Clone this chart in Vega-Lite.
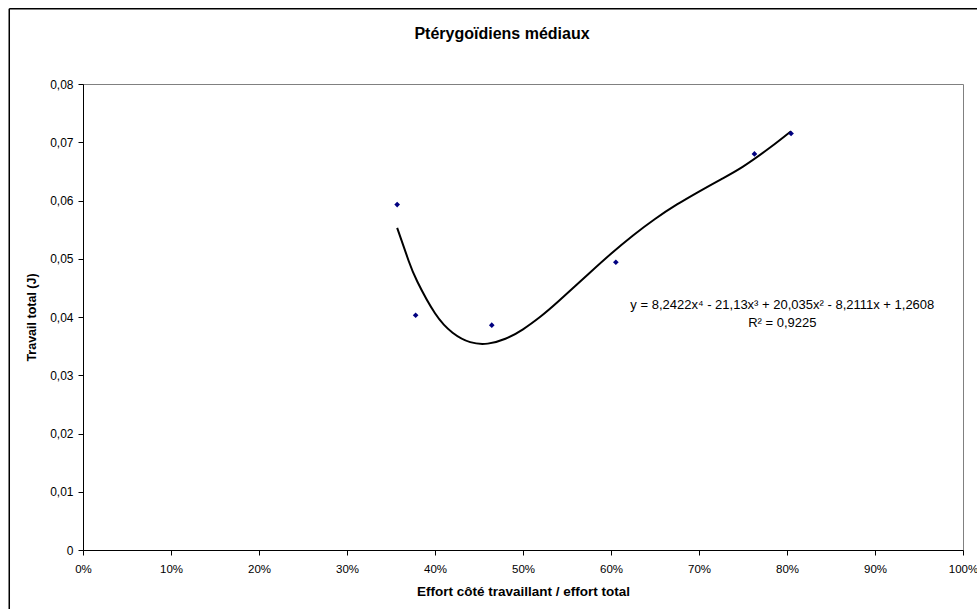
{
  "$schema": "https://vega.github.io/schema/vega-lite/v6.json",
  "width": 880,
  "height": 466,
  "autosize": "none",
  "padding": {"left": 83, "top": 84, "right": 14, "bottom": 59},
  "background": "white",
  "title": {"text": "Ptérygoïdiens médiaux", "font": "Liberation Sans", "fontSize": 16, "fontWeight": "bold", "color": "#000", "anchor": "middle", "frame": "group", "dx": -21, "offset": -34},
  "datasets": {
    "points": [
      {"effort": 0.357, "travail": 0.0593},
      {"effort": 0.378, "travail": 0.0403},
      {"effort": 0.4645, "travail": 0.0386},
      {"effort": 0.6055, "travail": 0.0494},
      {"effort": 0.763, "travail": 0.0680},
      {"effort": 0.8046, "travail": 0.0715}
    ],
    "trend": [
      {"effort": 0.357, "travail": 0.0553},
      {"effort": 0.37, "travail": 0.04966},
      {"effort": 0.38, "travail": 0.04604},
      {"effort": 0.40, "travail": 0.04064},
      {"effort": 0.42, "travail": 0.0373},
      {"effort": 0.44, "travail": 0.03568},
      {"effort": 0.46, "travail": 0.03543},
      {"effort": 0.48, "travail": 0.03626},
      {"effort": 0.50, "travail": 0.03789},
      {"effort": 0.52, "travail": 0.04008},
      {"effort": 0.54, "travail": 0.04265},
      {"effort": 0.575, "travail": 0.04747},
      {"effort": 0.60, "travail": 0.05085},
      {"effort": 0.625, "travail": 0.05399},
      {"effort": 0.65, "travail": 0.05683},
      {"effort": 0.675, "travail": 0.05932},
      {"effort": 0.70, "travail": 0.06154},
      {"effort": 0.725, "travail": 0.06364},
      {"effort": 0.75, "travail": 0.06582},
      {"effort": 0.78, "travail": 0.06901},
      {"effort": 0.8046, "travail": 0.0719}
    ]
  },
  "config": {
    "view": {"stroke": "#808080", "strokeWidth": 1},
    "axis": {
      "labelFont": "Liberation Sans",
      "labelFontSize": 12,
      "labelColor": "#000",
      "titleFont": "Liberation Sans",
      "titleFontSize": 13,
      "titleFontWeight": "bold",
      "titleColor": "#000",
      "tickColor": "#000",
      "domainColor": "#000",
      "tickSize": 5,
      "grid": false
    }
  },
  "layer": [
    {
      "data": {"name": "trend"},
      "mark": {"type": "line", "color": "#000", "strokeWidth": 2, "interpolate": "natural"},
      "encoding": {
        "x": {"field": "effort", "type": "quantitative", "scale": {"domain": [0, 1], "nice": false, "zero": false},
          "axis": {"values": [0, 0.1, 0.2, 0.3, 0.4, 0.5, 0.6, 0.7, 0.8, 0.9, 1], "format": ".0%", "labelFontSize": 11.5, "labelPadding": 8, "title": "Effort côté travaillant / effort total", "titleFontSize": 13.5, "titlePadding": 10, "labelFlush": false}},
        "y": {"field": "travail", "type": "quantitative", "scale": {"domain": [0, 0.08], "nice": false, "zero": false},
          "axis": {"values": [0, 0.01, 0.02, 0.03, 0.04, 0.05, 0.06, 0.07, 0.08], "labelExpr": "datum.value == 0 ? '0' : replace(format(datum.value, '.2f'), '.', ',')", "labelPadding": 5, "title": "Travail total (J)", "titleFontSize": 12.5, "titlePadding": 11, "labelFlush": false}}
      }
    },
    {
      "data": {"name": "points"},
      "mark": {"type": "point", "shape": "diamond", "filled": true, "color": "#000080", "size": 32, "opacity": 1},
      "encoding": {
        "x": {"field": "effort", "type": "quantitative"},
        "y": {"field": "travail", "type": "quantitative"}
      }
    },
    {
      "data": {"values": [{}]},
      "mark": {"type": "text", "font": "Liberation Sans", "fontSize": 13, "color": "#000", "align": "center", "baseline": "middle", "lineHeight": 18},
      "encoding": {
        "x": {"datum": 0.7947},
        "y": {"datum": 0.04206},
        "text": {"value": ["y = 8,2422x⁴ - 21,13x³ + 20,035x² - 8,2111x + 1,2608", "R² = 0,9225"]}
      }
    },
    {
      "data": {"values": [{}]},
      "mark": {"type": "rule", "color": "#000", "strokeWidth": 1.5, "clip": false},
      "encoding": {
        "x": {"datum": -0.0838},
        "y": {"datum": -0.012},
        "y2": {"datum": 0.0929}
      }
    },
    {
      "data": {"values": [{}]},
      "mark": {"type": "rule", "color": "#000", "strokeWidth": 1.5, "clip": false},
      "encoding": {
        "y": {"datum": 0.0929},
        "x": {"datum": -0.0838},
        "x2": {"datum": 1.1}
      }
    }
  ]
}
